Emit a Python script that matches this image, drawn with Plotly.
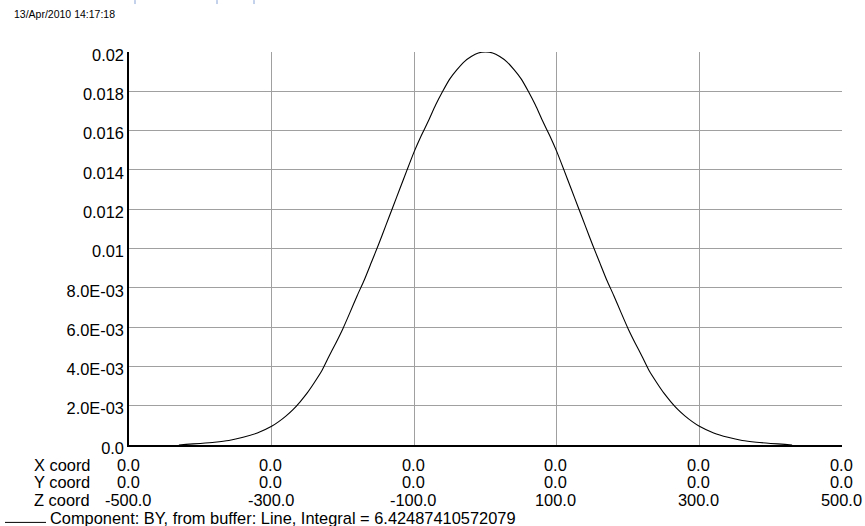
import plotly.graph_objects as go

# ---------------- data ----------------
z_coord = [-430, -420, -400, -380, -360, -340, -320, -300, -290, -280, -270, -260, -250,
           -240, -230, -220, -210, -200, -190, -180, -170, -160, -150, -140, -130, -120,
           -110, -100, -90, -80, -70, -60, -50, -40, -30, -20, -10, 0,
           10, 20, 30, 40, 50, 60, 70, 80, 90, 100, 110, 120, 130, 140, 150, 160, 170,
           180, 190, 200, 210, 220, 230, 240, 250, 260, 270, 280, 290, 300, 320, 340,
           360, 380, 400, 420, 430]
by_value = [0.00000, 0.00003, 0.00008, 0.00014, 0.00023, 0.00039, 0.00061, 0.00095, 0.00119,
            0.00147, 0.00180, 0.00220, 0.00265, 0.00318, 0.00375, 0.00448, 0.00518, 0.00592,
            0.00675, 0.00760, 0.00840, 0.00930, 0.01020, 0.01115, 0.01210, 0.01305, 0.01400,
            0.01493, 0.01575, 0.01650, 0.01730, 0.01800, 0.01863, 0.01910, 0.01950, 0.01977,
            0.01995, 0.02000,
            0.01995, 0.01977, 0.01950, 0.01910, 0.01863, 0.01800, 0.01730, 0.01650, 0.01575,
            0.01493, 0.01400, 0.01305, 0.01210, 0.01115, 0.01020, 0.00930, 0.00840, 0.00760,
            0.00675, 0.00592, 0.00518, 0.00448, 0.00375, 0.00318, 0.00265, 0.00220, 0.00180,
            0.00147, 0.00119, 0.00095, 0.00061, 0.00039, 0.00023, 0.00014, 0.00008, 0.00003,
            0.00000]

x_ticks_z = [-500, -300, -100, 100, 300, 500]
x_row_x = ["0.0", "0.0", "0.0", "0.0", "0.0", "0.0"]
x_row_y = ["0.0", "0.0", "0.0", "0.0", "0.0", "0.0"]
x_row_z = ["-500.0", "-300.0", "-100.0", "100.0", "300.0", "500.0"]
row_names = ["X coord", "Y coord", "Z coord"]

y_tickvals = [0.0, 0.002, 0.004, 0.006, 0.008, 0.010, 0.012, 0.014, 0.016, 0.018, 0.020]
y_ticktext = ["0.0", "2.0E-03", "4.0E-03", "6.0E-03", "8.0E-03", "0.01",
              "0.012", "0.014", "0.016", "0.018", "0.02"]

legend_text = "Component: BY, from buffer: Line, Integral = 6.42487410572079"
timestamp = "13/Apr/2010 14:17:18"

# ---------------- layout geometry ----------------
W, H = 865, 526
L, R, T, B = 129, 842, 52, 445.5
FONT = "Liberation Sans, Arial, sans-serif"
FS = 16.4


def px_x(px):
    return (px - L) / (R - L)


def px_y(py):
    return (B - py) / (B - T)


fig = go.Figure()
fig.add_trace(go.Scatter(x=z_coord, y=by_value, mode="lines",
                         line=dict(color="black", width=1.1, shape="spline", smoothing=0.5),
                         showlegend=False, hoverinfo="skip"))

annotations = []
row_offsets = [20.2, 37.2, 54.5]
rows = [x_row_x, x_row_y, x_row_z]
for name, off, vals in zip(row_names, row_offsets, rows):
    annotations.append(dict(text=name, xref="paper", yref="paper", x=px_x(33), y=0,
                            xanchor="left", yanchor="middle", yshift=-off, borderpad=0,
                            showarrow=False, font=dict(family=FONT, size=FS, color="black")))
    for xv, t in zip(x_ticks_z, vals):
        annotations.append(dict(text=t, xref="x", yref="paper", x=xv, y=0,
                                xanchor="center", yanchor="middle", yshift=-off, xshift=-1,
                                showarrow=False, borderpad=0,
                                font=dict(family=FONT, size=FS, color="black")))

annotations.append(dict(text=legend_text, xref="paper", yref="paper", x=px_x(49), y=0,
                        xanchor="left", yanchor="middle", yshift=-73, borderpad=0,
                        showarrow=False, font=dict(family=FONT, size=FS, color="black")))
annotations.append(dict(text=timestamp, xref="paper", yref="paper", x=px_x(12), y=px_y(13.5),
                        xanchor="left", yanchor="middle",
                        showarrow=False, font=dict(family=FONT, size=10.5, color="black")))

shapes = [dict(type="line", xref="paper", yref="paper", x0=px_x(5), x1=px_x(46),
               y0=px_y(523), y1=px_y(523), line=dict(color="black", width=1))]
for bx in [135, 217, 254]:
    shapes.append(dict(type="line", xref="paper", yref="paper", x0=px_x(bx), x1=px_x(bx),
                       y0=px_y(0), y1=px_y(4), line=dict(color="#8aa4d6", width=1)))

fig.update_layout(
    width=W, height=H,
    margin=dict(l=L, r=W - R, t=T, b=H - B, pad=0),
    paper_bgcolor="white", plot_bgcolor="white",
    font=dict(family=FONT, size=FS, color="black"),
    annotations=annotations, shapes=shapes,
    showlegend=False,
)
fig.update_xaxes(range=[-500, 500], tickvals=x_ticks_z, showticklabels=False,
                 showgrid=True, gridcolor="#a0a0a0", gridwidth=1, zeroline=False,
                 showline=True, linecolor="black", linewidth=1.5, ticks="")
fig.update_yaxes(range=[0, 0.02], tickvals=y_tickvals, ticktext=y_ticktext,
                 showgrid=True, gridcolor="#a0a0a0", gridwidth=1, zeroline=False,
                 showline=True, linecolor="black", linewidth=1.5, ticks="",
                 ticklabelshift=3,
                 tickfont=dict(family=FONT, size=FS, color="black"))

fig.write_html("out.html")
